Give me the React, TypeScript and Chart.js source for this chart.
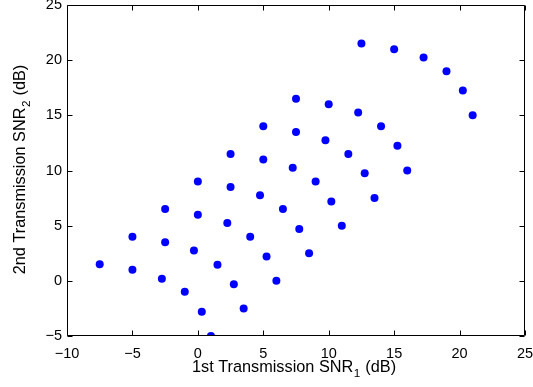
import React, { useEffect, useRef } from "react";
import { Chart, registerables } from "chart.js";

Chart.register(...registerables);

// 1st transmission SNR (dB)
const snr1: number[] = [
  -7.5, -5, -5, -2.5, -2.5, -2.75, -1, 0, 0, -0.3, 0.3, 1,
  2.5, 2.5, 2.25, 1.5, 2.75, 3.5, 4, 5, 5, 4.75, 5.25, 6,
  7.5, 7.5, 7.25, 6.5, 7.75, 8.5, 10, 9.75, 9, 10.2, 11,
  12.5, 12.25, 11.5, 12.75, 13.5, 14, 15, 15.25, 16,
  17.25, 19, 20.25, 21,
];
// 2nd transmission SNR (dB)
const snr2: number[] = [
  1.5, 4, 1, 6.5, 3.5, 0.2, -1, 9, 6, 2.75, -2.8, -5,
  11.5, 8.5, 5.25, 1.45, -0.3, -2.5, 4, 14, 11, 7.75, 2.2, 0,
  16.5, 13.5, 10.25, 6.5, 4.7, 2.5, 16, 12.75, 9, 7.2, 5,
  21.5, 15.25, 11.5, 9.75, 7.5, 14, 21, 12.25, 10,
  20.25, 19, 17.25, 15,
];

const xTicks: number[] = [-10, -5, 0, 5, 10, 15, 20, 25];
const yTicks: number[] = [-5, 0, 5, 10, 15, 20, 25];

const xTitle = ["1st Transmission SNR", "1", " (dB)"];
const yTitle = ["2nd Transmission SNR", "2", " (dB)"];

const FONT = "'Liberation Sans', Arial, sans-serif";
const TICK_SIZE = 14.5;
const TITLE_SIZE = 16.3;

const fmt = (v: number) => (v < 0 ? "\u2212" + Math.abs(v) : String(v));

function drawSubTitle(ctx: CanvasRenderingContext2D, parts: string[], cx: number, baseline: number) {
  const main = `${TITLE_SIZE}px ${FONT}`;
  const sub = `${TITLE_SIZE * 0.72}px ${FONT}`;
  ctx.font = main;
  const w0 = ctx.measureText(parts[0]).width;
  const w2 = ctx.measureText(parts[2]).width;
  ctx.font = sub;
  const w1 = ctx.measureText(parts[1]).width;
  const total = w0 + w1 + w2 + 1;
  let x = cx - total / 2;
  ctx.textAlign = "left";
  ctx.textBaseline = "alphabetic";
  ctx.fillStyle = "#000";
  ctx.font = main;
  ctx.fillText(parts[0], x, baseline);
  x += w0 + 0.5;
  ctx.font = sub;
  ctx.fillText(parts[1], x, baseline + 4.5);
  x += w1 + 0.5;
  ctx.font = main;
  ctx.fillText(parts[2], x, baseline);
}

const framePlugin = {
  id: "matlabFrame",
  afterDatasetsDraw(chart: any) {
    const { ctx, chartArea } = chart;
    const { left, right, top, bottom } = chartArea;
    const xs = chart.scales.x;
    const ys = chart.scales.y;
    ctx.save();
    ctx.strokeStyle = "#000";
    ctx.lineWidth = 1;
    const L = Math.round(left) + 0.5;
    const R = Math.round(right) - 0.5;
    const T = Math.round(top) + 0.5;
    const B = Math.round(bottom) - 0.5;
    ctx.beginPath();
    ctx.rect(L, T, R - L, B - T);
    ctx.stroke();
    const tl = 5;
    ctx.beginPath();
    for (const v of xTicks) {
      const px = Math.round(xs.getPixelForValue(v)) + 0.5;
      ctx.moveTo(px, B);
      ctx.lineTo(px, B - tl);
      ctx.moveTo(px, T);
      ctx.lineTo(px, T + tl);
    }
    for (const v of yTicks) {
      const py = Math.round(ys.getPixelForValue(v)) + 0.5;
      ctx.moveTo(L, py);
      ctx.lineTo(L + tl, py);
      ctx.moveTo(R, py);
      ctx.lineTo(R - tl, py);
    }
    ctx.stroke();
    ctx.restore();
  },
  afterDraw(chart: any) {
    const { ctx, chartArea } = chart;
    ctx.save();
    const cx = (chartArea.left + chartArea.right) / 2 - 2;
    drawSubTitle(ctx, xTitle, cx, 372);
    ctx.translate(25, (chartArea.top + chartArea.bottom) / 2 - 1);
    ctx.rotate(-Math.PI / 2);
    drawSubTitle(ctx, yTitle, 0, 0);
    ctx.restore();
  },
};

export default function App() {
  const ref = useRef<HTMLCanvasElement | null>(null);
  useEffect(() => {
    document.body.style.margin = "0";
    document.body.style.background = "#fff";
    const canvas = ref.current!;
    const points = snr1.map((x, i) => ({ x, y: snr2[i] }));
    const chart = new Chart(canvas, {
      type: "scatter",
      data: {
        datasets: [
          {
            data: points,
            backgroundColor: "#0000ff",
            borderColor: "#0000ff",
            borderWidth: 0,
            pointRadius: 4,
            pointHoverRadius: 4,
            clip: 0,
          } as any,
        ],
      },
      options: {
        animation: false,
        responsive: false,
        devicePixelRatio: 1,
        events: [],
        layout: { padding: { left: 0, right: 8, top: 5, bottom: 0 } },
        plugins: { legend: { display: false }, tooltip: { enabled: false } },
        scales: {
          x: {
            type: "linear",
            min: -10,
            max: 25,
            afterBuildTicks: (s: any) => {
              s.ticks = xTicks.map((v) => ({ value: v }));
            },
            afterFit: (s: any) => {
              s.height = 51;
              s.paddingLeft = 0;
              s.paddingRight = 0;
              s.paddingTop = 0;
              s.paddingBottom = 0;
            },
            grid: { display: false, drawTicks: false, tickLength: 0 },
            border: { display: false },
            ticks: {
              color: "#000",
              font: { family: FONT, size: TICK_SIZE },
              padding: 9,
              maxRotation: 0,
              autoSkip: false,
              callback: (v: any) => fmt(Number(v)),
            },
          },
          y: {
            type: "linear",
            min: -5,
            max: 25,
            afterBuildTicks: (s: any) => {
              s.ticks = yTicks.map((v) => ({ value: v }));
            },
            afterFit: (s: any) => {
              s.width = 67;
              s.paddingLeft = 0;
              s.paddingRight = 0;
              s.paddingTop = 0;
              s.paddingBottom = 0;
            },
            grid: { display: false, drawTicks: false, tickLength: 0 },
            border: { display: false },
            ticks: {
              color: "#000",
              font: { family: FONT, size: TICK_SIZE },
              padding: 5,
              autoSkip: false,
              callback: (v: any) => fmt(Number(v)),
            },
          },
        },
      },
      plugins: [framePlugin],
    });
    return () => chart.destroy();
  }, []);
  return (
    <div style={{ width: 533, height: 387, background: "#fff" }}>
      <canvas ref={ref} width={533} height={387} style={{ width: 533, height: 387, display: "block" }} />
    </div>
  );
}
